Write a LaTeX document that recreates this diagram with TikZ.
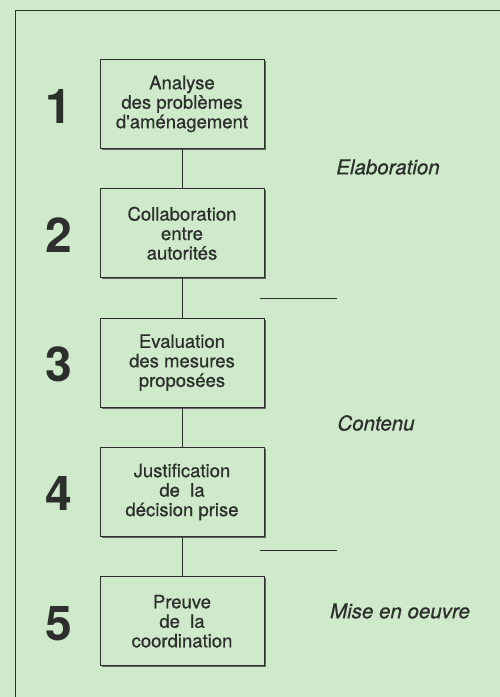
\documentclass[tikz,border=0pt]{standalone}
\usepackage{fontspec}
\setmainfont{TeX Gyre Heros}
\newfontfamily\medfont[FakeBold=0.7]{TeX Gyre Heros}
\usetikzlibrary{positioning,shadows}
\definecolor{pagegreen}{RGB}{206,234,202}
\definecolor{inkgrey}{RGB}{45,47,45}

\begin{document}
\begin{tikzpicture}[x=1pt,y=-1pt,
    stage/.style={draw=inkgrey,thick,fill=pagegreen,minimum width=164pt,
      minimum height=89pt,align=center,text=inkgrey,inner sep=1pt,
      font=\medfont\fontsize{18.5}{19.5}\selectfont,
      drop shadow={shadow xshift=1.6pt,shadow yshift=-1.6pt,fill=black!60,opacity=1}},
    stagenum/.style={text=inkgrey,font=\fontsize{48}{48}\bfseries\selectfont},
    phase/.style={text=inkgrey,font=\medfont\fontsize{20.5}{22}\itshape\selectfont}]
    \fill[pagegreen] (0,0) rectangle (500,697);
    \useasboundingbox (0,0) rectangle (500,697);
    \draw[inkgrey,thick] (500,10) -- (15,10) -- (15,697);
    % the five steps
    \node[stage] (s1) at (182,104) {Analyse\\des problèmes\\d\textquotesingle aménagement};
    \node[stage,below=39.5pt of s1] (s2) {Collaboration\\entre\\autorités};
    \node[stage,below=39.5pt of s2] (s3) {Evaluation\\des mesures\\proposées};
    \node[stage,below=39.5pt of s3] (s4) {Justification\\de\ \ la\\décision prise};
    \node[stage,below=39.5pt of s4] (s5) {Preuve\\de\ \ la\\coordination};
    \foreach \i in {1,...,5}
      \node[stagenum,yshift=-2pt] (n\i) at (59,0 |- s\i) {\i};
    \foreach \i/\j in {1/2,2/3,3/4,4/5}
      \draw[inkgrey,thick] (s\i) -- (s\j);
    % phases
    \node[phase] (elab) at (388,167) {Elaboration};
    \node[phase] (cont) at (376,423) {Contenu};
    \node[phase] (mise) at (400,611) {Mise en oeuvre};
    \draw[inkgrey,thick] (260,298) -- (337,298);
    \draw[inkgrey,thick] (260,550) -- (337,550);
\end{tikzpicture}
\end{document}
